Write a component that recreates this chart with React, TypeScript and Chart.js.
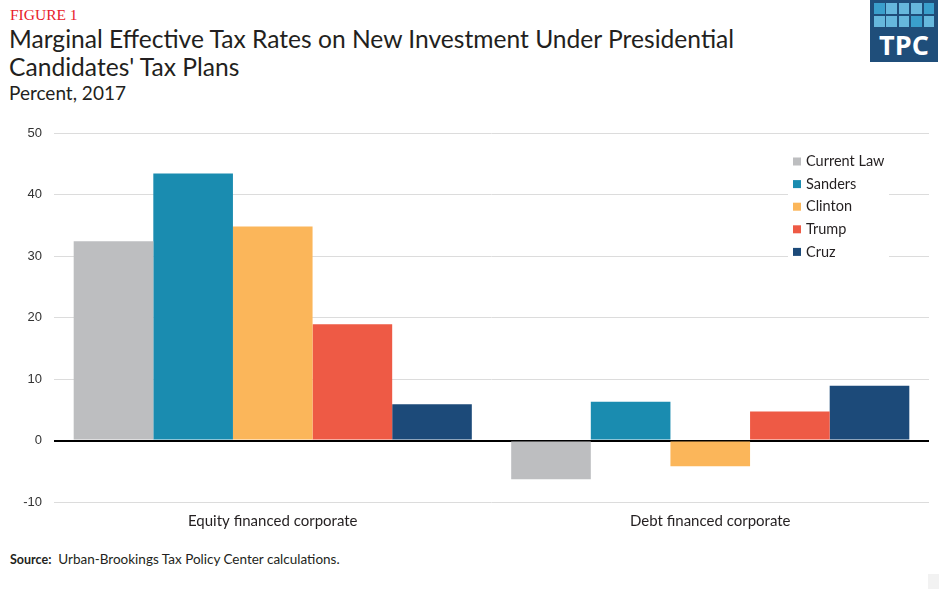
import React, { useEffect, useRef } from "react";
import { Chart, registerables } from "chart.js";

Chart.register(...registerables);

const categories = ["Equity financed corporate", "Debt financed corporate"];
const seriesNames = ["Current Law", "Sanders", "Clinton", "Trump", "Cruz"];
const currentLaw = [32.4, -6.3];
const sanders = [43.4, 6.3];
const clinton = [34.8, -4.2];
const trump = [18.9, 4.7];
const cruz = [5.9, 8.9];
const seriesColors = ["#bdbec0", "#1a8cb0", "#fbb65a", "#ee5a45", "#1c4a79"];
const yMin = -10;
const yMax = 50;
const yStep = 10;

const boxLegend = {
  id: "boxLegend",
  afterDraw(chart: any) {
    const ctx = chart.ctx;
    ctx.save();
    ctx.fillStyle = "#ffffff";
    ctx.fillRect(788, 40, 101, 112);
    ctx.font = "14.5px Lato";
    ctx.textBaseline = "middle";
    chart.data.datasets.forEach((ds: any, i: number) => {
      const cy = 51.5 + i * 22.6;
      ctx.fillStyle = ds.backgroundColor;
      ctx.fillRect(793, cy - 4, 8, 8);
      ctx.fillStyle = "#231f20";
      ctx.fillText(ds.label, 806, cy);
    });
    ctx.restore();
  },
};

export default function App() {
  const ref = useRef<HTMLCanvasElement | null>(null);

  useEffect(() => {
    document.body.style.margin = "0";
    const values = [currentLaw, sanders, clinton, trump, cruz];
    const chart = new Chart(ref.current as HTMLCanvasElement, {
      type: "bar",
      data: {
        labels: categories,
        datasets: seriesNames.map((name, i) => ({
          label: name,
          data: values[i],
          backgroundColor: seriesColors[i],
          borderWidth: 0,
          categoryPercentage: 0.91,
          barPercentage: 1,
        })),
      },
      options: {
        responsive: false,
        animation: false,
        layout: { padding: { top: 23, right: 10, left: 0, bottom: 0 } },
        plugins: {
          legend: { display: false },
          tooltip: { enabled: false },
        },
        scales: {
          x: {
            grid: { display: false, drawTicks: false },
            border: { display: false },
            ticks: {
              font: { family: "Lato", size: 15 },
              color: "#231f20",
              padding: 10,
            },
            afterFit: (s: any) => {
              s.height = 48;
            },
          },
          y: {
            min: yMin,
            max: yMax,
            grid: {
              drawTicks: false,
              color: (c: any) => (c.tick && c.tick.value === 0 ? "#000000" : "#dcdcdc"),
              lineWidth: (c: any) => (c.tick && c.tick.value === 0 ? 2 : 1),
            },
            border: { display: false },
            ticks: {
              stepSize: yStep,
              font: { family: "Liberation Sans", size: 13 },
              color: "#333333",
              padding: 12,
            },
            afterFit: (s: any) => {
              s.width = 54;
            },
          },
        },
      },
      plugins: [boxLegend],
    });
    return () => chart.destroy();
  }, []);

  const squares = [0, 1, 2, 3, 4, 5, 6, 7, 8, 9];
  const sqColors = ["#3a9fcc", "#66b8dd", "#66b8dd", "#66b8dd", "#3a9fcc", "#66b8dd", "#66b8dd", "#66b8dd", "#3a9fcc", "#66b8dd"];

  return (
    <div style={{ position: "relative", width: 939, height: 589, background: "#fff", overflow: "hidden", fontFamily: "Lato" }}>
      <div style={{ position: "absolute", left: 10, top: 5, fontFamily: "Liberation Serif", fontSize: 15.5, color: "#e8202a", lineHeight: "20px" }}>
        FIGURE 1
      </div>
      <div style={{ position: "absolute", left: 9, top: 25, fontSize: 24.6, color: "#231f20", lineHeight: "28px", width: 860 }}>
        Marginal Effective Tax Rates on New Investment Under Presidential
        <br />
        Candidates' Tax Plans
      </div>
      <div style={{ position: "absolute", left: 9, top: 81, fontSize: 19, color: "#231f20", lineHeight: "24px" }}>
        Percent, 2017
      </div>
      <div style={{ position: "absolute", left: 870, top: 0, width: 68, height: 62, background: "#1f4e7a" }}>
        {squares.map((k) => (
          <div
            key={k}
            style={{
              position: "absolute",
              left: 4 + (k % 5) * 12.4,
              top: 3 + Math.floor(k / 5) * 13,
              width: 10.5,
              height: 11,
              background: sqColors[k],
            }}
          />
        ))}
        <div style={{ position: "absolute", left: 0, top: 30, width: 68, textAlign: "center", color: "#fff", fontFamily: "Open Sans", fontWeight: 700, fontSize: 27, lineHeight: "30px" }}>
          TPC
        </div>
      </div>
      <canvas ref={ref} width={939} height={440} style={{ position: "absolute", left: 0, top: 110, width: 939, height: 440 }} />
      <div style={{ position: "absolute", left: 10, top: 550, fontSize: 13.5, color: "#231f20", lineHeight: "18px" }}>
        <span style={{ fontWeight: 700, fontSize: 12.5 }}>Source:</span>&nbsp; Urban-Brookings Tax Policy Center calculations.
      </div>
      <div style={{ position: "absolute", left: 928, top: 574, width: 11, height: 15, background: "#f2f2f2" }} />
    </div>
  );
}
